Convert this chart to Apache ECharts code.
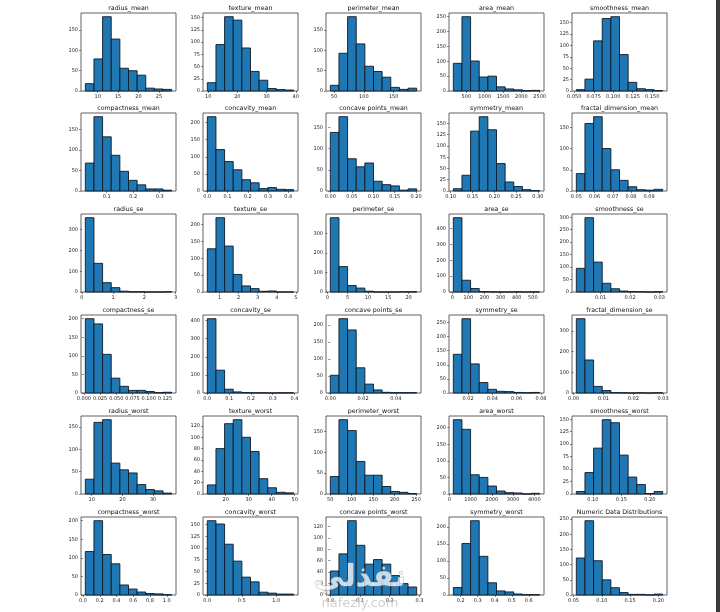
<!DOCTYPE html>
<html>
<head>
<meta charset="utf-8">
<script src="https://cdn.jsdelivr.net/npm/echarts@6/dist/echarts.min.js"></script>
<style>
  html, body { margin: 0; padding: 0; background: #fff; }
  #main { width: 720px; height: 612px; }
</style>
</head>
<body>
<div id="main"></div>
<script>
// subplot titles (the last one was overwritten by the figure title)
const titles = [
  'radius_mean', 'texture_mean', 'perimeter_mean', 'area_mean', 'smoothness_mean',
  'compactness_mean', 'concavity_mean', 'concave points_mean', 'symmetry_mean', 'fractal_dimension_mean',
  'radius_se', 'texture_se', 'perimeter_se', 'area_se', 'smoothness_se',
  'compactness_se', 'concavity_se', 'concave points_se', 'symmetry_se', 'fractal_dimension_se',
  'radius_worst', 'texture_worst', 'perimeter_worst', 'area_worst', 'smoothness_worst',
  'compactness_worst', 'concavity_worst', 'concave points_worst', 'symmetry_worst', 'Numeric Data Distributions',
];

// data range of each column (first and last bin edge)
const binLo = [
  6.981, 9.71, 43.79, 143.5, 0.05263,
  0.01938, 0, 0, 0.106, 0.04996,
  0.1115, 0.3602, 0.757, 6.802, 0.001713,
  0.002252, 0, 0, 0.007882, 0.0008948,
  7.93, 12.02, 50.41, 185.2, 0.07117,
  0.02729, 0, 0, 0.1565, 0.05504,
];
const binHi = [
  28.11, 39.28, 188.5, 2501, 0.1634,
  0.3454, 0.4268, 0.2012, 0.304, 0.09744,
  2.873, 4.885, 21.98, 542.2, 0.03113,
  0.1354, 0.396, 0.05279, 0.07895, 0.02984,
  36.04, 49.54, 251.2, 4254, 0.2226,
  1.058, 1.252, 0.291, 0.6638, 0.2075,
];

// counts of the 10 bins
const counts = [
  [18, 79, 183, 128, 56, 50, 39, 7, 5, 4],
  [17, 95, 152, 145, 88, 40, 22, 5, 3, 2],
  [14, 93, 183, 116, 61, 48, 34, 9, 4, 7],
  [93, 250, 101, 47, 50, 14, 7, 4, 1, 2],
  [3, 26, 110, 159, 163, 80, 19, 5, 3, 1],
  [68, 181, 132, 87, 48, 26, 15, 5, 5, 2],
  [217, 121, 86, 62, 33, 24, 7, 10, 5, 4],
  [138, 175, 76, 57, 66, 23, 15, 12, 2, 5],
  [5, 35, 133, 165, 136, 61, 20, 10, 3, 1],
  [41, 159, 175, 100, 50, 25, 10, 3, 2, 4],
  [358, 138, 45, 21, 4, 1, 1, 0, 0, 1],
  [128, 220, 136, 52, 18, 10, 2, 3, 0, 0],
  [380, 130, 33, 20, 4, 0, 0, 0, 1, 1],
  [468, 74, 22, 2, 1, 0, 0, 1, 0, 1],
  [95, 298, 120, 35, 13, 4, 2, 1, 0, 1],
  [200, 186, 104, 40, 18, 7, 7, 4, 1, 2],
  [410, 126, 21, 6, 2, 1, 1, 0, 1, 1],
  [52, 218, 185, 74, 26, 9, 2, 1, 1, 1],
  [137, 263, 103, 37, 13, 6, 5, 2, 1, 2],
  [360, 160, 32, 12, 2, 1, 0, 1, 0, 1],
  [33, 160, 166, 69, 54, 47, 21, 10, 7, 2],
  [16, 80, 124, 131, 100, 75, 27, 11, 3, 2],
  [42, 178, 152, 78, 45, 45, 18, 6, 4, 1],
  [224, 195, 58, 50, 24, 9, 4, 3, 0, 2],
  [5, 43, 92, 149, 143, 78, 34, 19, 1, 5],
  [117, 200, 109, 84, 27, 16, 8, 4, 3, 1],
  [158, 151, 108, 72, 38, 28, 6, 4, 2, 2],
  [42, 72, 130, 87, 54, 62, 54, 34, 20, 14],
  [22, 152, 219, 114, 36, 12, 9, 3, 1, 1],
  [122, 245, 113, 50, 24, 8, 2, 2, 0, 3],
];

// x tick labels of each subplot
const xTicks = [
  ['10', '15', '20', '25'],
  ['10', '20', '30', '40'],
  ['50', '100', '150'],
  ['500', '1000', '1500', '2000', '2500'],
  ['0.050', '0.075', '0.100', '0.125', '0.150'],
  ['0.1', '0.2', '0.3'],
  ['0.0', '0.1', '0.2', '0.3', '0.4'],
  ['0.00', '0.05', '0.10', '0.15', '0.20'],
  ['0.10', '0.15', '0.20', '0.25', '0.30'],
  ['0.05', '0.06', '0.07', '0.08', '0.09'],
  ['0', '1', '2', '3'],
  ['1', '2', '3', '4', '5'],
  ['0', '5', '10', '15', '20'],
  ['0', '100', '200', '300', '400', '500'],
  ['0.01', '0.02', '0.03'],
  ['0.000', '0.025', '0.050', '0.075', '0.100', '0.125'],
  ['0.0', '0.1', '0.2', '0.3', '0.4'],
  ['0.00', '0.02', '0.04'],
  ['0.02', '0.04', '0.06', '0.08'],
  ['0.00', '0.01', '0.02', '0.03'],
  ['10', '20', '30'],
  ['20', '30', '40', '50'],
  ['50', '100', '150', '200', '250'],
  ['0', '1000', '2000', '3000', '4000'],
  ['0.10', '0.15', '0.20'],
  ['0.0', '0.2', '0.4', '0.6', '0.8', '1.0'],
  ['0.0', '0.5', '1.0'],
  ['0.0', '0.1', '0.2', '0.3'],
  ['0.2', '0.3', '0.4', '0.5', '0.6'],
  ['0.05', '0.10', '0.15', '0.20'],
];

// y tick step of each subplot
const yStep = [
  50, 25, 50, 50, 25,
  50, 50, 50, 25, 50,
  100, 50, 100, 100, 50,
  50, 100, 50, 50, 100,
  50, 20, 50, 50, 25,
  50, 25, 20, 50, 50,
];

var chartDom = document.getElementById('main');
var myChart = echarts.init(chartDom, null, { renderer: 'canvas' });

const colX = [81, 203, 326, 449, 572];
const rowY = [13, 113, 214, 315, 416, 517];
const PW = 95;
const PH = 78;
const FONT = 'DejaVu Sans';

const grids = [];
const xAxes = [];
const yAxes = [];
const series = [];
const graphics = [];

function histRect(params, api) {
  const p0 = api.coord([api.value(0), 0]);
  const p1 = api.coord([api.value(1), api.value(2)]);
  return {
    type: 'rect',
    shape: { x: p0[0], y: p1[1], width: p1[0] - p0[0], height: p0[1] - p1[1] },
    style: { fill: '#1f77b4', stroke: '#0d1a26', lineWidth: 0.9 },
  };
}

titles.forEach((name, i) => {
  const r = Math.floor(i / 5);
  const c = i % 5;
  const lo = binLo[i];
  const hi = binHi[i];
  const span = hi - lo;
  const yMax = Math.max(...counts[i]) * 1.05;
  const ticksX = xTicks[i];
  const ticksY = [];
  for (let v = 0; v <= yMax; v += yStep[i]) ticksY.push(v);

  grids.push({
    left: colX[c], top: rowY[r], width: PW, height: PH,
    show: true, borderColor: '#3a3a3a', borderWidth: 0.8, backgroundColor: 'transparent',
  });

  xAxes.push({
    type: 'value', gridIndex: i,
    min: lo - span * 0.05, max: hi + span * 0.05,
    splitLine: { show: false },
    axisLine: { show: false },
    axisTick: { show: true, length: 2, customValues: ticksX.map(Number), lineStyle: { color: '#333', width: 0.6 } },
    axisLabel: {
      customValues: ticksX.map(Number),
      margin: 3, fontSize: 5, color: '#222', fontFamily: FONT,
      formatter: (v) => {
        let best = ticksX[0];
        ticksX.forEach((t) => { if (Math.abs(Number(t) - v) < Math.abs(Number(best) - v)) best = t; });
        return best;
      },
    },
  });

  yAxes.push({
    type: 'value', gridIndex: i,
    min: 0, max: yMax,
    splitLine: { show: false },
    axisLine: { show: false },
    axisTick: { show: true, length: 2, customValues: ticksY, lineStyle: { color: '#333', width: 0.6 } },
    axisLabel: { customValues: ticksY, margin: 3, fontSize: 5, color: '#222', fontFamily: FONT },
  });

  const bins = counts[i].map((n, k) => [lo + (span * k) / 10, lo + (span * (k + 1)) / 10, n]);
  series.push({
    type: 'custom', xAxisIndex: i, yAxisIndex: i,
    renderItem: histRect,
    encode: { x: [0, 1], y: 2 },
    data: bins,
    silent: true,
  });

  graphics.push({
    type: 'text', x: colX[c] + PW / 2, y: rowY[r] - 2,
    style: { text: name, fontSize: 6.3, fontFamily: FONT, fill: '#111', align: 'center', verticalAlign: 'bottom' },
  });
});

// watermark and window edge from the screenshot
graphics.push({
  type: 'text', x: 360, y: 578,
  style: { text: 'نفذلي', fontSize: 30, fontWeight: 'bold', fontFamily: FONT, fill: 'rgba(255,255,255,0.75)', stroke: 'rgba(140,140,140,0.55)', lineWidth: 1, align: 'center', verticalAlign: 'middle' },
  z: 100,
});
graphics.push({
  type: 'text', x: 360, y: 604,
  style: { text: 'nafezly.com', fontSize: 13, fontFamily: FONT, fill: 'rgba(190,190,190,0.7)', align: 'center', verticalAlign: 'middle' },
  z: 100,
});
graphics.push({
  type: 'rect', shape: { x: 716, y: 0, width: 4, height: 612 },
  style: { fill: '#3b3b3b' }, z: 100,
});

option = {
  animation: false,
  backgroundColor: '#fff',
  grid: grids,
  xAxis: xAxes,
  yAxis: yAxes,
  series: series,
  graphic: graphics,
};

option && myChart.setOption(option);
</script>
</body>
</html>
